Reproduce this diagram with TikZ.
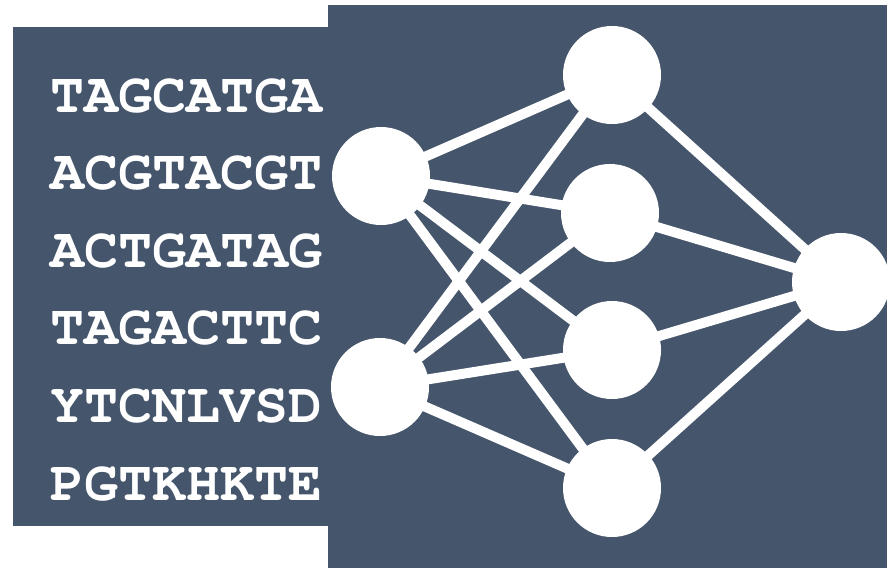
\documentclass[tikz,border=0pt]{standalone}
\usepackage{fontspec}
\setmonofont{texgyrecursor}[Extension=.otf, UprightFont=*-regular, BoldFont=*-bold]
\usepackage{tikz}
\usetikzlibrary{calc,positioning}
\definecolor{slate}{RGB}{69,85,108}
\tikzset{
  panel/.style={fill=slate, draw=none},
  neuron/.style={circle, fill=white, draw=none, minimum size=49pt, inner sep=0pt},
  link/.style={draw=white, line width=5pt},
  seq/.style={anchor=base west, text=white, inner sep=0pt,
    font=\fontsize{28.3}{30}\selectfont\ttfamily\bfseries}
}
\begin{document}
\begin{tikzpicture}[x=0.5pt, y=-0.5pt]
  \useasboundingbox (0,0) rectangle (887,568);
  \fill[white] (0,0) rectangle (887,568);
  \path[panel] (13,27) rectangle (329,526);
  \path[panel] (328,5) rectangle (887,568);

  \foreach \i/\txt in {1/TAGCATGA, 2/ACGTACGT, 3/ACTGATAG, 4/TAGACTTC, 5/YTCNLVSD, 6/PGTKHKTE} {
    \node[seq] (s\i) at (50,{112+77.6*(\i-1)}) {\txt};
  }

  % layer positions
  \coordinate (i1) at (381,176);
  \coordinate (i2) at (380,387);
  \coordinate (h1) at (612,75);
  \coordinate (h2) at (610,213);
  \coordinate (h3) at (612,350);
  \coordinate (h4) at (612,488);
  \coordinate (o1) at (841,282);

  \foreach \a in {i1,i2} {
    \foreach \b in {h1,h2,h3,h4} {
      \draw[link] (\a) -- (\b);
    }
  }
  \foreach \b in {h1,h2,h3,h4} {
    \draw[link] (\b) -- (o1);
  }

  \foreach \n in {i1,i2,h1,h2,h3,h4,o1} {
    \node[neuron] (n\n) at (\n) {};
  }
\end{tikzpicture}
\end{document}
